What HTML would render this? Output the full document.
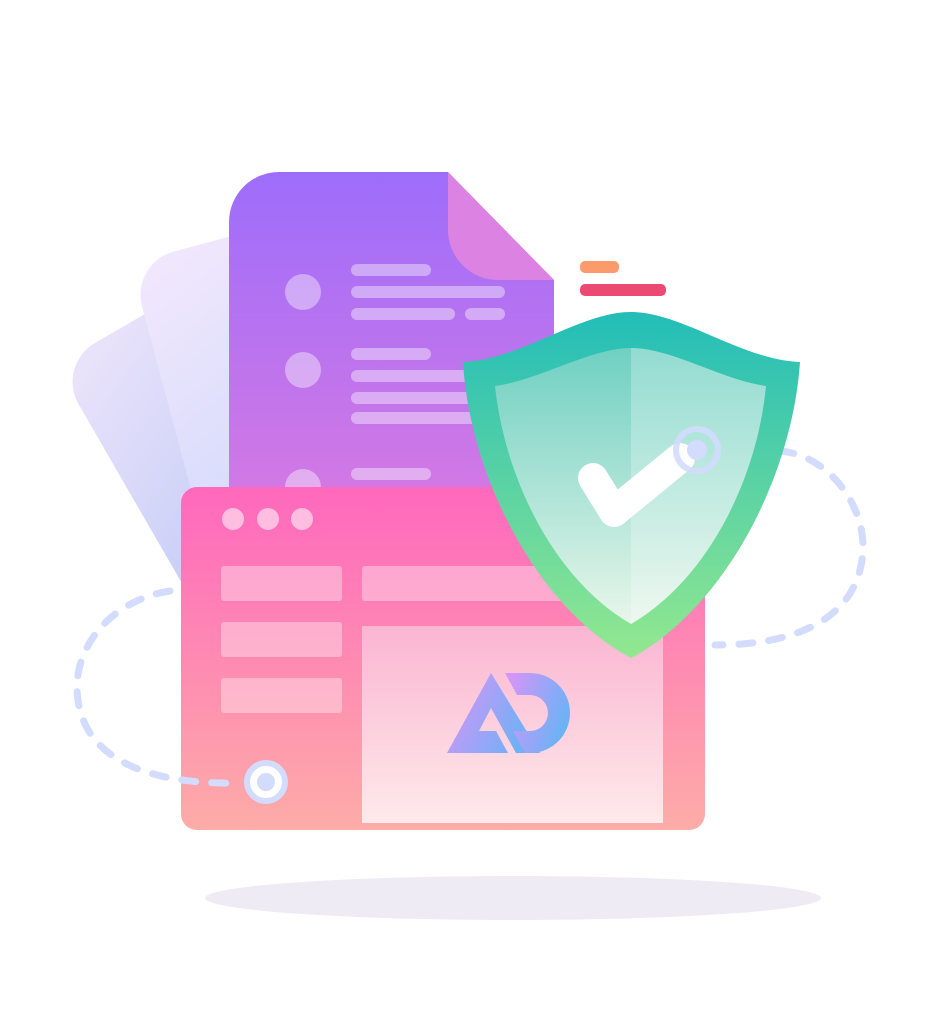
<!DOCTYPE html>
<html><head><style>html,body{margin:0;padding:0;background:#fff}</style></head>
<body>
<svg width="931" height="1024" viewBox="0 0 931 1024" xmlns="http://www.w3.org/2000/svg">
<defs>
<linearGradient id="c1" x1="0" y1="0" x2="0.3" y2="1"><stop offset="0" stop-color="#ece4fb"/><stop offset="1" stop-color="#b3c2f5"/></linearGradient>
<linearGradient id="c2" x1="0" y1="0" x2="0.3" y2="1"><stop offset="0" stop-color="#f3e8fd"/><stop offset="1" stop-color="#c9d6fb"/></linearGradient>
<linearGradient id="doc" x1="0" y1="0" x2="0" y2="1"><stop offset="0" stop-color="#9d6dfb"/><stop offset="1" stop-color="#d779e2"/></linearGradient>
<linearGradient id="win" x1="0" y1="0" x2="0" y2="1"><stop offset="0" stop-color="#ff68bd"/><stop offset="1" stop-color="#fdaca8"/></linearGradient>
<linearGradient id="pan" x1="0" y1="0" x2="0" y2="1"><stop offset="0" stop-color="#fbb5d2"/><stop offset="1" stop-color="#feeaea"/></linearGradient>
<linearGradient id="sh" x1="0" y1="0" x2="0" y2="1"><stop offset="0" stop-color="#22bdb8"/><stop offset="1" stop-color="#93e88f"/></linearGradient>
<linearGradient id="shi" x1="0" y1="0" x2="0" y2="1"><stop offset="0" stop-color="#6fd0c2"/><stop offset="1" stop-color="#e8f6ea"/></linearGradient>
<linearGradient id="ad" x1="0" y1="0" x2="1" y2="0.4"><stop offset="0" stop-color="#de92f8"/><stop offset="1" stop-color="#6db2f6"/></linearGradient>
</defs>
<ellipse cx="513" cy="898" rx="308" ry="22" fill="#efebf5"/>
<g transform="rotate(-30 90 340)"><rect x="48" y="345" width="260" height="390" rx="45" fill="url(#c1)"/></g>
<g transform="rotate(-15 160 250)"><rect x="128" y="255" width="260" height="380" rx="45" fill="url(#c2)"/></g>
<path d="M279 172 H448 L554 280 V520 H229 V222 A50 50 0 0 1 279 172Z" fill="url(#doc)"/>
<path d="M448 172 L554 280 H498 A50 50 0 0 1 448 230Z" fill="#dc82e2"/>
<g fill="#fff" fill-opacity="0.4">
<circle cx="303" cy="292" r="18"/><circle cx="303" cy="370" r="18"/><circle cx="303" cy="487" r="18"/>
<rect x="351" y="264" width="80" height="12" rx="6"/><rect x="351" y="286" width="154" height="12" rx="6"/><rect x="351" y="308" width="104" height="12" rx="6"/><rect x="465" y="308" width="40" height="12" rx="6"/>
<rect x="351" y="348" width="80" height="12" rx="6"/><rect x="351" y="370" width="154" height="12" rx="6"/><rect x="351" y="392" width="154" height="12" rx="6"/><rect x="351" y="412" width="154" height="12" rx="6"/>
<rect x="351" y="468" width="80" height="12" rx="6"/>
</g>
<rect x="181" y="487" width="524" height="343" rx="16" fill="url(#win)"/>
<g fill="#fff" fill-opacity="0.55"><circle cx="233" cy="519" r="11"/><circle cx="268" cy="519" r="11"/><circle cx="302" cy="519" r="11"/></g>
<g fill="#fff" fill-opacity="0.35">
<rect x="221" y="566" width="121" height="35" rx="3"/><rect x="221" y="622" width="121" height="35" rx="3"/><rect x="221" y="678" width="121" height="35" rx="3"/>
<rect x="362" y="566" width="301" height="35" rx="3"/>
</g>
<rect x="362" y="626" width="301" height="197" fill="url(#pan)"/>
<path d="M491 673 L447 753 H508 L496 731 H479 L491 708 L516 753 H540 Z" fill="url(#ad)"/>
<path d="M505 673 H530 A40 40 0 0 1 530 753 H525 L513 731 H530 A18 18 0 0 0 530 695 H517 Z" fill="url(#ad)"/>
<g fill="none" stroke="#d3dcfd" stroke-width="7" stroke-linecap="round" stroke-dasharray="14 16">
<path d="M170 591 C110 600 70 650 78 700 C86 760 150 785 240 783"/>
<path d="M720 451 H780 C830 455 870 510 862 560 C855 610 810 645 715 645"/>
</g>
<circle cx="266" cy="782" r="19" fill="#fff" stroke="#d3dcfd" stroke-width="6"/>
<circle cx="266" cy="782" r="9" fill="#d3dcfd"/>
<rect x="580" y="261" width="39" height="12" rx="5" fill="#fb9b6c"/>
<rect x="580" y="284" width="86" height="12" rx="5" fill="#ec4a73"/>
<path d="M631 312 C580 312 520 360 463 362 C470 480 540 610 631 658 C722 610 792 480 800 362 C742 360 682 312 631 312Z" fill="url(#sh)"/>
<path d="M631 348 C590 348 540 380 495 386 C505 480 555 580 631 624 C707 580 757 480 766 386 C722 380 672 348 631 348Z" fill="url(#shi)"/>
<path d="M631 348 C672 348 722 380 766 386 C757 480 707 580 631 624Z" fill="#fff" fill-opacity="0.25"/>
<path d="M593 478 L614 512 L680 458" fill="none" stroke="#fff" stroke-width="30" stroke-linecap="round" stroke-linejoin="round"/>
<circle cx="697" cy="450" r="21" fill="none" stroke="#d3dcfd" stroke-width="6" stroke-opacity="0.9"/>
<circle cx="697" cy="450" r="10" fill="#d3dcfd"/>
</svg>
</body></html>
